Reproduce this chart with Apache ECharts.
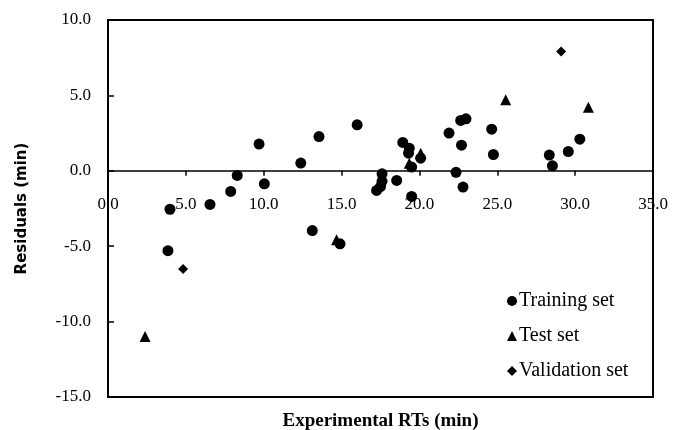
<!DOCTYPE html>
<html>
<head>
<meta charset="utf-8">
<script src="https://cdn.jsdelivr.net/npm/echarts@6/dist/echarts.min.js"></script>
<style>
  html, body { margin: 0; padding: 0; background: #fff; }
  #chart { width: 673px; height: 430px; }
</style>
</head>
<body>
<div id="chart"></div>
<script>
// residuals: [experimental RT, residual]
const trainingSet = [
    [3.85, -5.3], [3.98, -2.55], [6.55, -2.23], [7.88, -1.37], [8.3, -0.31],
    [10.04, -0.86], [9.7, 1.77], [12.38, 0.51], [13.55, 2.27], [16.0, 3.05],
    [13.12, -3.96], [14.9, -4.84], [17.6, -0.2], [17.6, -0.7], [17.5, -1.05],
    [17.25, -1.3], [18.54, -0.64], [18.93, 1.88], [19.35, 1.5], [19.3, 1.17],
    [19.5, 0.25], [19.5, -1.7], [20.08, 0.84], [21.9, 2.5], [22.35, -0.1],
    [22.7, 1.7], [22.8, -1.08], [22.65, 3.34], [22.99, 3.45], [24.64, 2.76],
    [24.75, 1.08], [28.34, 1.04], [28.54, 0.33], [29.56, 1.28], [30.3, 2.1]
];
const testSet = [
    [2.38, -10.99], [14.68, -4.58], [19.35, 0.5], [20.08, 1.17], [25.54, 4.71], [30.85, 4.22]
];
const validationSet = [
    [4.82, -6.52], [29.1, 7.91]
];
const seriesNames = ['Training set', 'Test set', 'Validation set'];

const chart = echarts.init(document.getElementById('chart'));

const serif = '"Liberation Serif", "Times New Roman", serif';

chart.setOption({
    animation: false,
    grid: {
        left: 108, right: 20, top: 20, bottom: 33,
        outerBoundsMode: 'none',
        containLabel: false,
        show: true, borderColor: '#000', borderWidth: 2, backgroundColor: 'transparent'
    },
    legend: {
        orient: 'vertical',
        left: 502, top: 286,
        itemWidth: 10, itemHeight: 10, itemGap: 15,
        textStyle: { fontFamily: serif, fontSize: 20, color: '#000', padding: [0, 0, 0, -3] },
        data: seriesNames
    },
    xAxis: {
        type: 'value',
        min: 0, max: 35, interval: 5,
        name: 'Experimental RTs (min)',
        nameLocation: 'middle',
        nameGap: 15,
        nameTextStyle: { fontFamily: serif, fontSize: 19, fontWeight: 'bold', color: '#000', verticalAlign: 'top' },
        axisLine: { onZero: true, lineStyle: { color: '#000', width: 1.5 } },
        axisTick: { show: true, inside: false, length: 5, lineStyle: { color: '#000', width: 1.5 } },
        // labels sit just under the zero line, as in the original
        axisLabel: {
            margin: -201, fontFamily: serif, fontSize: 17, color: '#000',
            formatter: v => v.toFixed(1)
        },
        splitLine: { show: false }
    },
    yAxis: {
        type: 'value',
        min: -15, max: 10, interval: 5,
        name: 'Residuals (min)',
        nameLocation: 'middle',
        nameGap: 78,
        nameTextStyle: { fontFamily: '"DejaVu Sans", sans-serif', fontSize: 15, fontWeight: 'bold', color: '#000' },
        axisLine: { show: true, onZero: false, lineStyle: { color: '#000', width: 2 } },
        axisTick: { show: true, inside: true, length: 6, lineStyle: { color: '#000', width: 1.5 } },
        axisLabel: {
            margin: 17, fontFamily: serif, fontSize: 17, color: '#000',
            formatter: v => v.toFixed(1)
        },
        splitLine: { show: false }
    },
    series: [
        {
            name: seriesNames[0], type: 'scatter', data: trainingSet,
            symbol: 'circle', symbolSize: 11, z: 4,
            itemStyle: { color: '#000', opacity: 1 }
        },
        {
            name: seriesNames[1], type: 'scatter', data: testSet,
            symbol: 'triangle', symbolSize: 11, z: 3,
            itemStyle: { color: '#000', opacity: 1 }
        },
        {
            name: seriesNames[2], type: 'scatter', data: validationSet,
            symbol: 'diamond', symbolSize: 10, z: 3,
            itemStyle: { color: '#000', opacity: 1 }
        }
    ]
});
</script>
</body>
</html>
